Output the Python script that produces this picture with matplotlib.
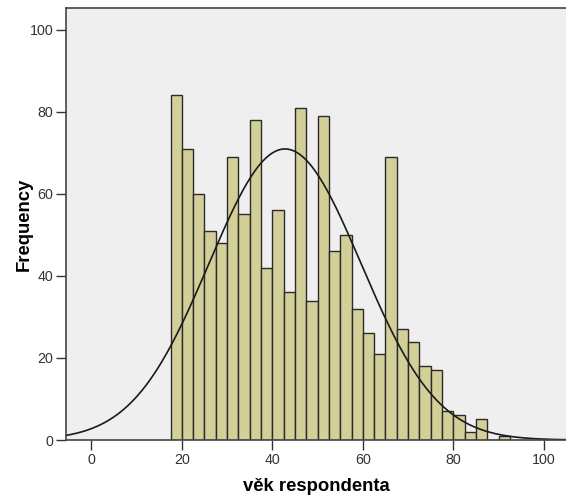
import numpy as np
import matplotlib
matplotlib.use("Agg")
import matplotlib.pyplot as plt

# histogram of respondent age, 2.5-year bins starting at 17.5
bin_start = 17.5
bin_width = 2.5
counts = [84, 71, 60, 51, 48, 69, 55, 78, 42, 56, 36, 81, 34, 79, 46,
          50, 32, 26, 21, 69, 27, 24, 18, 17, 7, 6, 2, 5, 0, 1]

# normal curve parameters
mean_age = 42.8
sd_age = 16.8

x_ticks = [0, 20, 40, 60, 80, 100]
y_ticks = [0, 20, 40, 60, 80, 100]

plt.rcParams['font.family'] = ['Liberation Sans', 'DejaVu Sans']

fig = plt.figure(figsize=(5.66, 4.99), dpi=100)
ax = fig.add_axes([66/566, 1 - 440/499, 1 - 66/566, 432/499])
ax.set_facecolor('#EFEFEF')

edges = bin_start + bin_width * np.arange(len(counts))
ax.bar(edges, counts, width=bin_width, align='edge',
       color='#D3CF98', edgecolor='#2b2b2b', linewidth=1.0)

n_total = sum(counts)
xs = np.linspace(-6, 106, 400)
ys = n_total * bin_width / (sd_age * np.sqrt(2 * np.pi)) * np.exp(-0.5 * ((xs - mean_age) / sd_age) ** 2)
ax.plot(xs, ys, color='#1a1a1a', linewidth=1.2)

ax.set_xlim(-5.6, 104.9)
ax.set_ylim(0, 105.3)
ax.set_xticks(x_ticks)
ax.set_yticks(y_ticks)
ax.tick_params(direction='out', length=7, width=1, colors='#333333',
               labelsize=10.3, pad=2)
for s in ['left', 'bottom', 'top']:
    ax.spines[s].set_color('#444444')
    ax.spines[s].set_linewidth(1.2)
ax.spines['right'].set_visible(False)

ax.set_xlabel('věk respondenta', fontsize=13.3, fontweight='bold')
ax.set_ylabel('Frequency', fontsize=13.3, fontweight='bold')
ax.xaxis.set_label_coords(0.5 + 0 * 1, -0.088)
ax.yaxis.set_label_coords(-0.066, 0.5)

fig.savefig('out.png', dpi=100)
